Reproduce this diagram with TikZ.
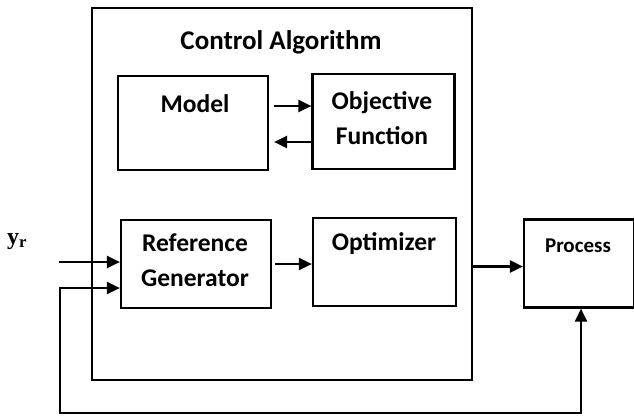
\documentclass[tikz,border=0pt]{standalone}
\usepackage{fontspec}
\setmainfont{Carlito}
\newfontfamily\yrfont{Liberation Serif}
\usetikzlibrary{arrows.meta,calc}
\tikzset{
  box/.style={draw=black, line width=2.2pt, fill=white, inner sep=0pt},
  lbl/.style={font=\bfseries\fontsize{25.5}{34.5}\selectfont, align=center, inner sep=0pt},
  arr/.style={line width=2.2pt, -{Triangle[length=13pt,width=12pt]}},
  darr/.style={line width=2.2pt, {Triangle[length=13pt,width=12pt]}-{Triangle[length=13pt,width=12pt]}}
}
\begin{document}
\begin{tikzpicture}[x=1pt,y=-1pt]
\useasboundingbox (0,0) rectangle (634,415);
% outer box
\node[box, minimum width=380pt, minimum height=372pt] (outer) at (282,194) {};
\node[lbl, font=\bfseries\fontsize{27}{33}\selectfont, anchor=base] (title) at (281,49) {Control Algorithm};
% inner boxes
\node[box, minimum width=150pt, minimum height=94pt] (model) at (193,123) {};
\node[lbl, anchor=base] (modeltxt) at (195,112) {Model};
\node[box, minimum width=142pt, minimum height=95pt] (obj) at (383.5,121.5) {};
\node[lbl, anchor=base] (objtxt) at (382,144) {Objective\\Function};
\node[box, minimum width=150pt, minimum height=88pt] (rg) at (196,264) {};
\node[lbl, anchor=base] (rgtxt) at (195,286) {Reference\\Generator};
\node[box, minimum width=143pt, minimum height=88pt] (opt) at (384.5,262) {};
\node[lbl, anchor=base] (opttxt) at (384,250) {Optimizer};
\node[box, minimum width=110pt, minimum height=88pt] (proc) at (579,263.5) {};
\node[lbl, font=\bfseries\fontsize{21}{24}\selectfont, anchor=base] (proctxt) at (578,252) {Process};
% input label
\node[anchor=base west, inner sep=0pt, font=\yrfont\bfseries\fontsize{24}{26}\selectfont] (yr) at (7,244) {y\textsubscript{r}};
% connectors
\draw[arr] ($(model.east)+(5,-17)$) -- ($(obj.west)+(0,-15.5)$);
\draw[arr] ($(obj.west)+(0,20.5)$) -- ($(model.east)+(5,19)$);
\draw[arr] ($(rg.east)+(3,0)$) -- (opt.west |- rg.east);
\draw[arr] ($(outer.east |- proc.west)+(0,3)$) -- ($(proc.west)+(0,3)$);
\coordinate (in) at (59,262);
\draw[arr] (in) -- (rg.west |- in);
\coordinate (fb1) at (581,413);
\coordinate (fb2) at (60,413);
\coordinate (fb3) at (60,288);
\draw[darr] (proc.south -| fb1) -- (fb1) -- (fb2) -- (fb3) -- (rg.west |- fb3);
\end{tikzpicture}
\end{document}
